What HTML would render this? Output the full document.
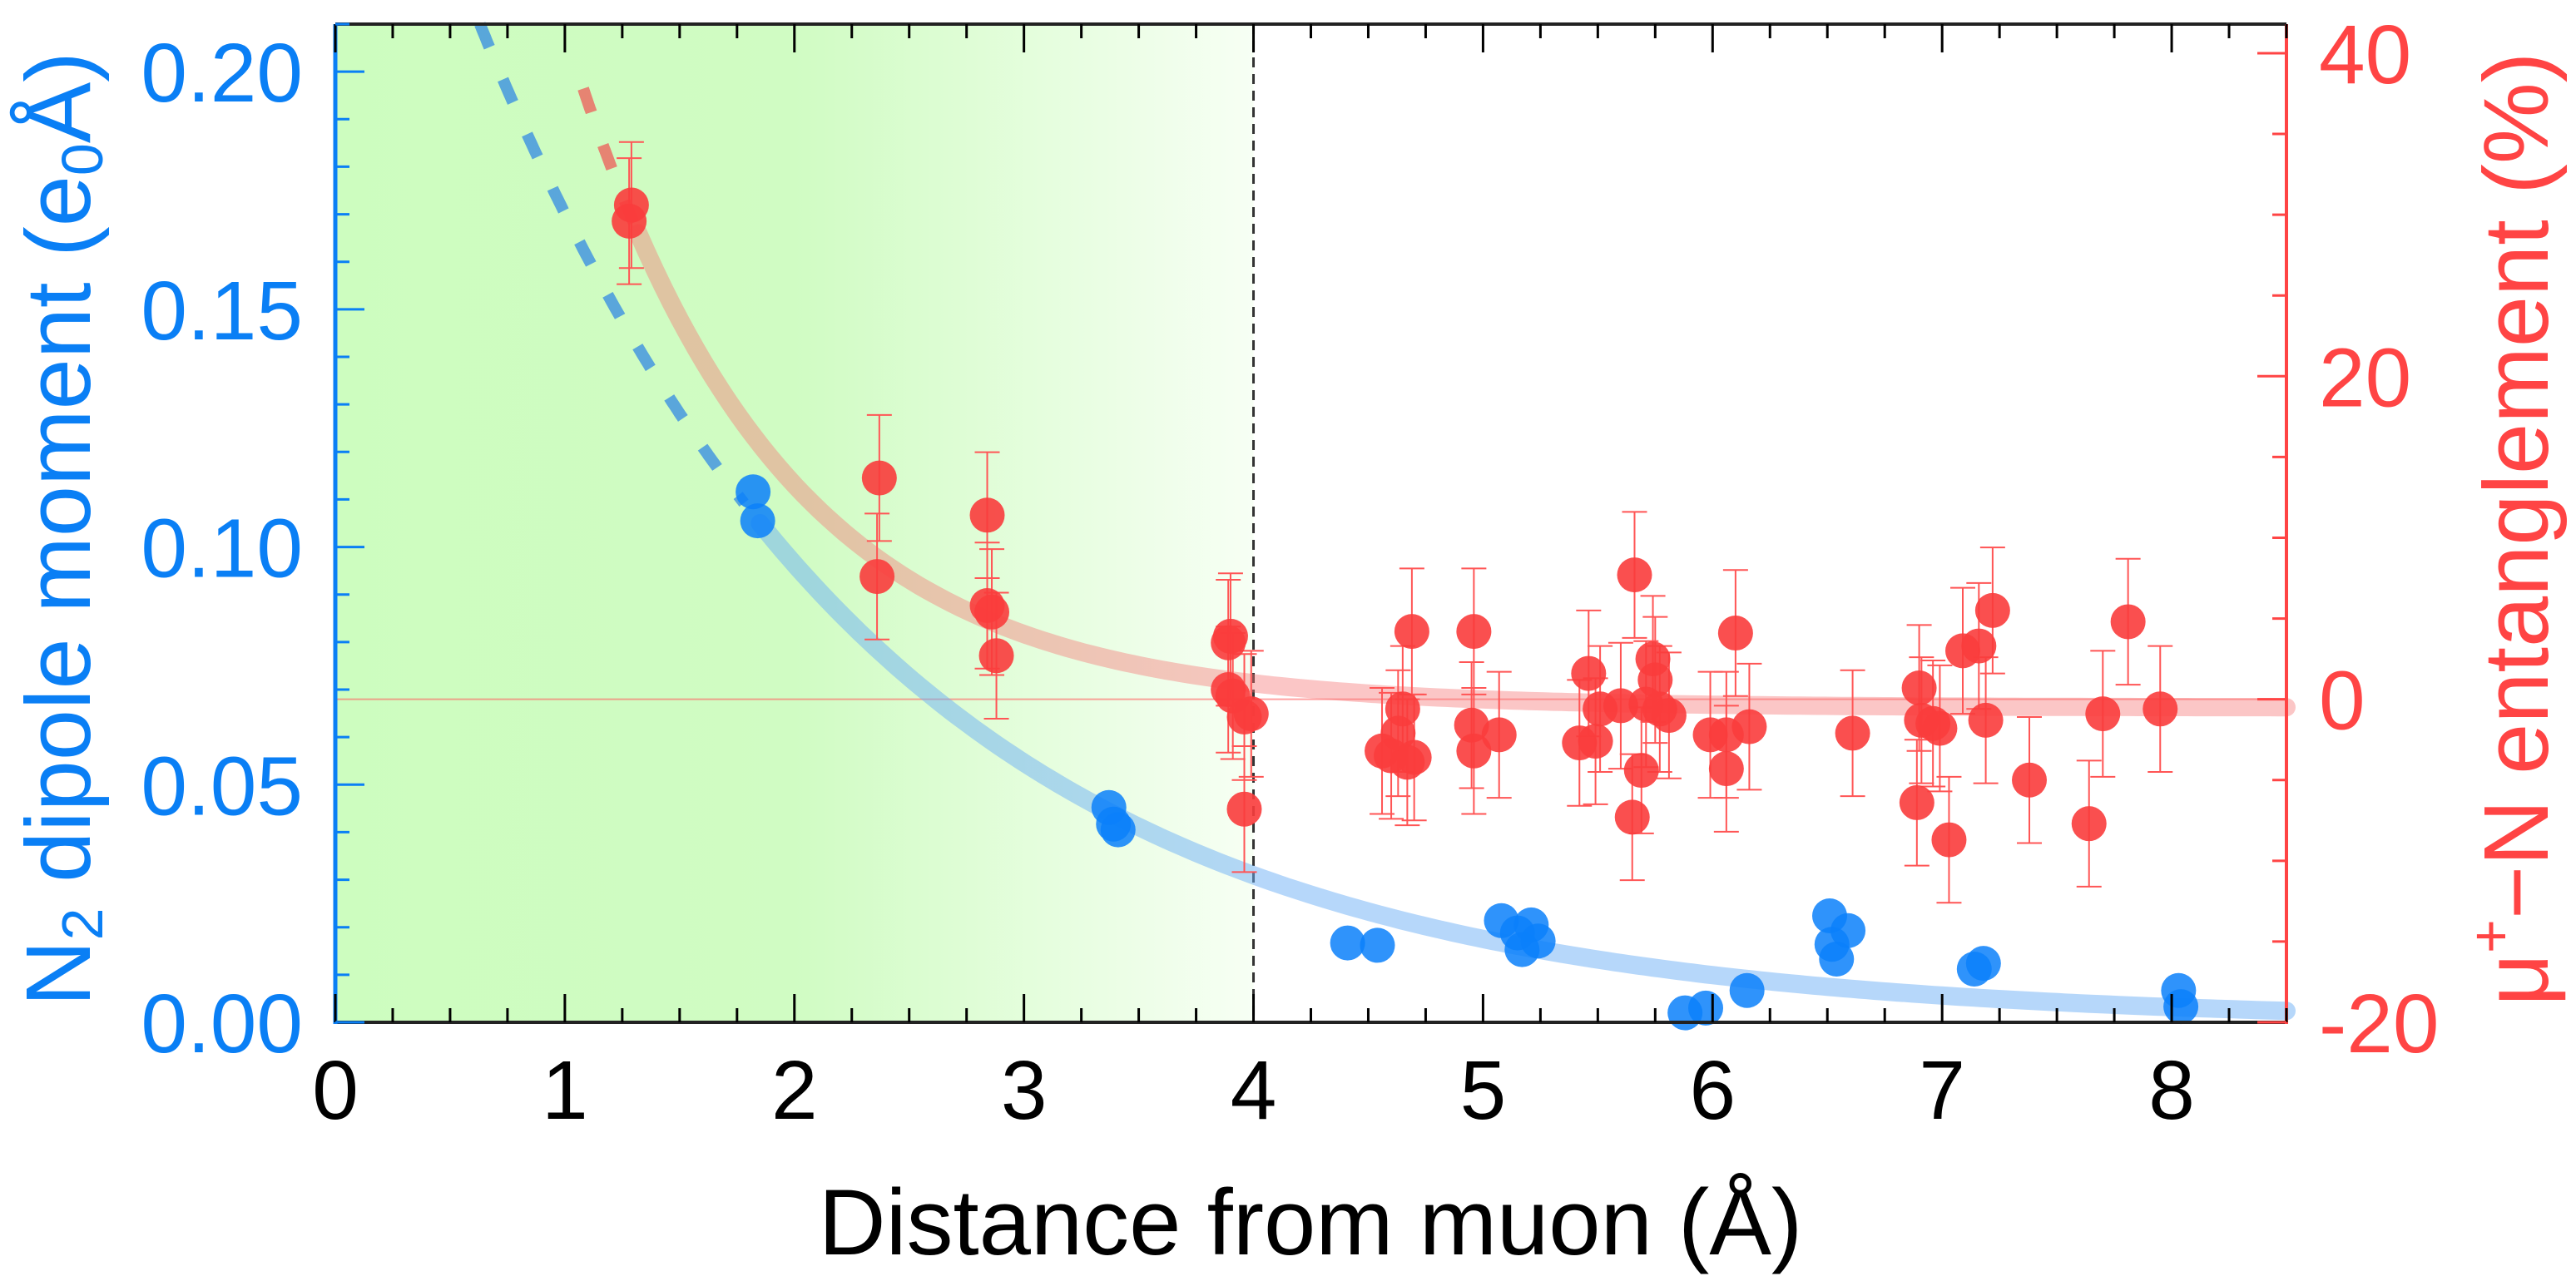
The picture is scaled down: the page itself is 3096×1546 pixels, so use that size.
<!DOCTYPE html>
<html><head><meta charset="utf-8"><style>
html,body{margin:0;padding:0;background:#fff;}
svg{display:block;font-family:"Liberation Sans",sans-serif;}
</style></head><body>
<svg id="chart" width="3096" height="1546" viewBox="0 0 3096 1546" xmlns="http://www.w3.org/2000/svg">
<defs>
<linearGradient id="greenGrad" x1="0" x2="1" y1="0" y2="0">
<stop offset="0" stop-color="#cdfdbf"/>
<stop offset="0.5" stop-color="#d0fcc3"/>
<stop offset="1" stop-color="#f7fff4"/>
</linearGradient>
</defs>
<g id="plot"></g>
<text x="1575" y="1508" font-size="112" text-anchor="middle" fill="#000">Distance from muon (Å)</text>
<text transform="translate(108,636) rotate(-90)" font-size="110" text-anchor="middle" fill="#0a7ff5">N<tspan font-size="70" dy="15">2</tspan><tspan dy="-15"> dipole moment (e</tspan><tspan font-size="70" dy="15">0</tspan><tspan dy="-15">Å)</tspan></text>
<text transform="translate(3062,636) rotate(-90)" font-size="110" text-anchor="middle" fill="#f44">μ<tspan font-size="70" dy="-45">+</tspan><tspan dy="45">−N entanglement (%)</tspan></text>
</svg>
<script>
const xTicks=[0,1,2,3,4,5,6,7,8];
const leftTicks=[0.00,0.05,0.10,0.15,0.20];
const leftTickLabels=["0.00","0.05","0.10","0.15","0.20"];
const rightTicks=[-20,0,20,40];
const rightTickLabels=["-20","0","20","40"];
const blueX=[1.82,1.84,3.37,3.39,3.41,4.41,4.54,5.08,5.15,5.17,5.21,5.24,5.88,5.97,6.15,6.51,6.52,6.54,6.59,7.14,7.18,8.03,8.04];
const blueY=[0.1116,0.1055,0.0452,0.0417,0.0405,0.0167,0.0162,0.0214,0.0188,0.0153,0.0205,0.0171,0.002,0.003,0.0067,0.0224,0.0164,0.0133,0.0193,0.0112,0.0124,0.0067,0.0033];
const redX=[1.29,1.28,2.37,2.36,2.84,2.84,2.86,2.88,3.89,3.9,3.89,3.91,3.96,3.99,3.96,4.56,4.6,4.63,4.65,4.67,4.7,4.69,4.96,4.95,4.96,5.07,5.42,5.46,5.49,5.51,5.6,5.66,5.65,5.69,5.71,5.74,5.75,5.77,5.81,5.99,6.06,6.06,6.1,6.16,6.61,6.89,6.9,6.91,6.96,6.99,7.03,7.09,7.16,7.19,7.22,7.38,7.64,7.7,7.81,7.95];
const redY=[30.6,29.6,13.7,7.6,11.4,5.8,5.4,2.7,3.5,3.9,0.6,0.2,-1.1,-0.9,-6.8,-3.2,-3.5,-2.1,-0.6,-3.9,-3.6,4.2,4.2,-1.6,-3.2,-2.2,-2.7,1.6,-2.6,-0.6,-0.4,7.7,-7.3,-4.4,-0.3,2.5,1.2,-0.6,-1.0,-2.2,-4.3,-2.2,4.1,-1.7,-2.1,-6.4,0.7,-1.3,-1.5,-1.8,-8.7,3.0,3.3,-1.3,5.5,-5.0,-7.7,-0.9,4.8,-0.6];
const redErr=[3.9];
const blueFit=[0.105,1.85,1.76];
const redFit=[30,1.3,0.9,-0.5];

const NS="http://www.w3.org/2000/svg";
const X0=403,X1=2748,Y0=29,Y1=1229;
const xMin=0,xMax=8.5,lMin=0,lMax=0.21,rMin=-20,rMax=41.8;
const sx=v=>X0+(v-xMin)/(xMax-xMin)*(X1-X0);
const syL=v=>Y1-(v-lMin)/(lMax-lMin)*(Y1-Y0);
const syR=v=>Y1-(v-rMin)/(rMax-rMin)*(Y1-Y0);
const svg=document.getElementById('chart');
const plot=document.getElementById('plot');
function mk(tag,attrs,parent){const e=document.createElementNS(NS,tag);for(const k in attrs)e.setAttribute(k,attrs[k]);(parent||plot).appendChild(e);return e;}

let bg=mk('rect',{x:X0,y:Y0,width:sx(4)-X0,height:Y1-Y0,fill:'url(#greenGrad)'});



let dl=mk('line',{x1:sx(4),x2:sx(4),y1:Y0,y2:Y1,stroke:'#333','stroke-width':3,'stroke-dasharray':'12 8'});



let zl=mk('line',{x1:X0,x2:X1,y1:syR(0),y2:syR(0),stroke:'rgba(255,100,100,0.6)','stroke-width':2});



function bf(x){return blueFit[0]*Math.exp(-(x-blueFit[1])/blueFit[2]);}
function rf(x){return redFit[0]*Math.exp(-(x-redFit[1])/redFit[2])+redFit[3];}
function pathFrom(f,sy,a,b){let d='';for(let i=0;i<=200;i++){const x=a+(b-a)*i/200;d+=(i?'L':'M')+sx(x).toFixed(1)+','+sy(f(x)).toFixed(1);}return d;}

let bs=mk('path',{d:pathFrom(bf,syL,1.85,8.5),fill:'none',stroke:'rgba(110,175,245,0.5)','stroke-width':22,'stroke-linecap':'round'});


let bd=mk('path',{d:pathFrom(bf,syL,0.63,1.78),fill:'none',stroke:'rgba(40,130,230,0.7)','stroke-width':14,'stroke-dasharray':'30 42'});



let rs=mk('path',{d:pathFrom(rf,syR,1.32,8.5),fill:'none',stroke:'rgba(245,120,120,0.42)','stroke-width':22,'stroke-linecap':'round'});


let rd=mk('path',{d:pathFrom(rf,syR,1.08,1.3),fill:'none',stroke:'rgba(240,80,80,0.7)','stroke-width':14,'stroke-dasharray':'30 42'});



for(let i=0;i<blueX.length;i++){
 const c=mk('circle',{cx:sx(blueX[i]),cy:syL(blueY[i]),r:21,fill:'rgba(10,128,250,0.85)'});
 
 
}
for(let i=0;i<redX.length;i++){
 const e=redErr[0],cx=sx(redX[i]),yt=syR(redY[i]+e),yb=syR(redY[i]-e);
 const g=mk('g',{stroke:'#f55','stroke-width':2});
 
 
 mk('line',{x1:cx,x2:cx,y1:yt,y2:yb},g);
 mk('line',{x1:cx-15,x2:cx+15,y1:yt,y2:yt},g);
 mk('line',{x1:cx-15,x2:cx+15,y1:yb,y2:yb},g);
}
for(let i=0;i<redX.length;i++){
 const c=mk('circle',{cx:sx(redX[i]),cy:syR(redY[i]),r:21,fill:'rgba(250,60,60,0.9)'});
 
 
}

// frame
let tb=mk('line',{x1:X0,x2:X1,y1:Y0,y2:Y0,stroke:'#222','stroke-width':4});


let bb=mk('line',{x1:X0,x2:X1,y1:Y1,y2:Y1,stroke:'#222','stroke-width':4});


let la=mk('line',{x1:X0,x2:X0,y1:Y0,y2:Y1+2,stroke:'#0a7ff5','stroke-width':5});


let ra=mk('line',{x1:X1,x2:X1,y1:Y0,y2:Y1+2,stroke:'#f44','stroke-width':4});



// x ticks
for(let k=0;k<=34;k++){
 const v=k*0.25,x=sx(v),L=(k%4===0)?34:17;
 mk('line',{x1:x,x2:x,y1:Y1,y2:Y1-L,stroke:'#000','stroke-width':3});
 mk('line',{x1:x,x2:x,y1:Y0,y2:Y0+L,stroke:'#000','stroke-width':3});
}
xTicks.forEach(v=>{
 const t=mk('text',{x:sx(v),y:1345,'font-size':100,'text-anchor':'middle',fill:'#000'});
 t.textContent=String(v);
 
 
});
// left ticks
for(let k=0;k<=21;k++){
 const v=k*0.01,y=syL(v),L=(k%5===0)?35:17;
 mk('line',{x1:X0,x2:X0+L,y1:y,y2:y,stroke:'#0a7ff5','stroke-width':3});
}
leftTicks.forEach((v,i)=>{
 const t=mk('text',{x:364,y:syL(v)+36,'font-size':100,'text-anchor':'end',fill:'#0a7ff5'});
 t.textContent=leftTickLabels[i];
 
 
});
// right ticks
for(let k=0;k<=12;k++){
 const v=-20+k*5,y=syR(v),L=(k%4===0)?35:17;
 mk('line',{x1:X1,x2:X1-L,y1:y,y2:y,stroke:'#f44','stroke-width':3});
}
rightTicks.forEach((v,i)=>{
 const t=mk('text',{x:2787,y:syR(v)+36,'font-size':100,'text-anchor':'start',fill:'#f44'});
 t.textContent=rightTickLabels[i];
 
 
});
</script>
</body></html>
